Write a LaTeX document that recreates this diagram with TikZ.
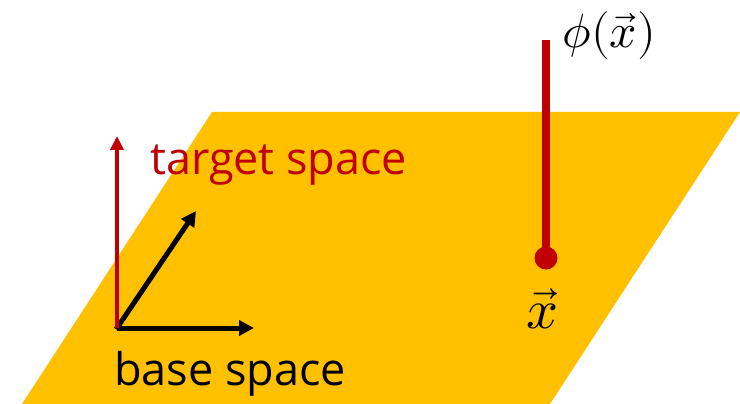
\documentclass[tikz,border=0pt]{standalone}
\usepackage{fontspec}
\setmainfont{Open Sans}
\usepackage{unicode-math}
\setmathfont{Latin Modern Math}
\usetikzlibrary{positioning,arrows.meta,calc}
\definecolor{plane}{HTML}{FFC000}
\definecolor{fieldred}{HTML}{C00000}

\begin{document}
\begin{tikzpicture}[x=1pt, y=-1pt,
  lbl/.style={font=\fontsize{45}{50}\selectfont, inner sep=0pt, anchor=base west},
  mlbl/.style={font=\fontsize{48}{52}\selectfont, inner sep=0pt},
  basearr/.style={-{Triangle[length=15pt, width=15pt]}, line width=5pt, black},
  tgtarr/.style={-{Triangle[length=14pt, width=13pt]}, line width=3.5pt, fieldred},
  fieldline/.style={line width=8pt, fieldred}]
\useasboundingbox (0,0) rectangle (740,404);
% base plane
\fill[plane] (212,112) -- (740,112) -- (550,404) -- (22,404) -- cycle;
% local frame
\coordinate (o) at (117,328);
\coordinate (e1) at (254,328);
\coordinate (e2) at (196,211);
\coordinate (e3) at (117,136);
\draw[basearr] (o) -- (e1);
\draw[basearr, shorten <=-1.5pt] (o) -- (e2);
\draw[tgtarr] (o) -- (e3);
\node[lbl, text=fieldred] (tgt) at (150,175) {target space};
\node[lbl] (base) at (114,385) {base space};
% field value at a point
\coordinate (top) at (546,40);
\node[circle, fill=fieldred, minimum size=23pt, inner sep=0pt] (pt) at (546,258) {};
\draw[fieldline] (top) -- (pt.center);
\node[mlbl, anchor=base west] (phi) at (562,48) {$\phi(\vec{x})$};
\node[mlbl, font=\fontsize{56}{60}\selectfont, anchor=base] (xv) at (543,328) {$\vec{x}$};
\end{tikzpicture}
\end{document}
